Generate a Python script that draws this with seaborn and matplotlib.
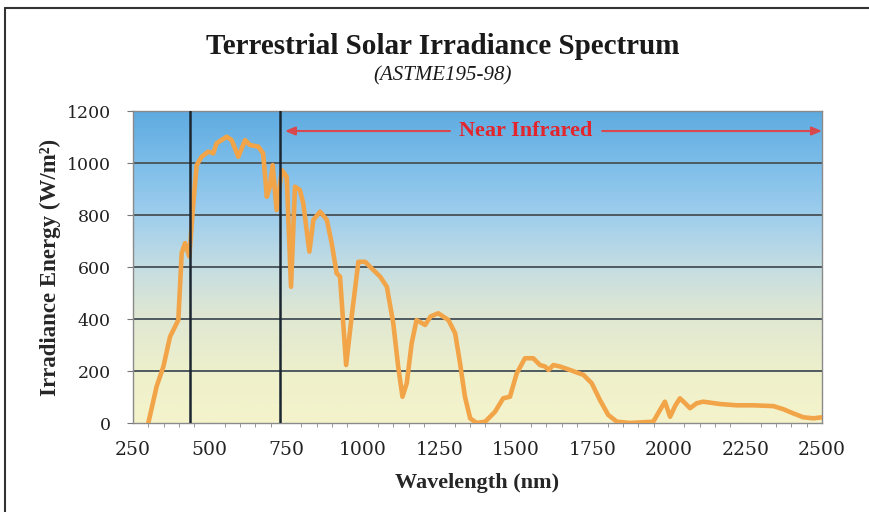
import numpy as np
import seaborn as sns
import matplotlib.pyplot as plt
from matplotlib.colors import LinearSegmentedColormap
from matplotlib.lines import Line2D

# Spectrum values (wavelength in nm, irradiance in W/m^2)
wavelength = [300, 327, 349, 371, 398, 409, 420, 434, 447, 458,
              474, 496, 512, 523, 556, 572, 594, 616, 632, 659,
              675, 687, 697, 706, 719, 736, 752, 766, 779, 795,
              806, 826, 839, 861, 883, 899, 915, 926, 946, 964,
              986, 1008, 1024, 1057, 1079, 1100, 1116, 1130, 1144, 1160,
              1176, 1204, 1222, 1247, 1280, 1302, 1318, 1334, 1351, 1372,
              1400, 1432, 1459, 1481, 1503, 1530, 1557, 1579, 1596, 1607,
              1623, 1645, 1677, 1721, 1748, 1775, 1802, 1830, 1873, 1949,
              1971, 1987, 2004, 2020, 2036, 2053, 2069, 2091, 2112, 2167,
              2222, 2276, 2341, 2374, 2406, 2439, 2472, 2500]
irradiance = [0, 140, 216, 332, 396, 654, 692, 640, 846, 992,
              1024, 1044, 1037, 1076, 1101, 1088, 1024, 1088, 1069, 1063,
              1037, 870, 909, 992, 819, 973, 947, 524, 909, 896,
              845, 659, 781, 813, 781, 691, 576, 563, 223, 409,
              620, 620, 601, 563, 524, 383, 217, 101, 153, 307,
              396, 377, 410, 422, 396, 345, 230, 101, 18, 0,
              5, 43, 95, 101, 191, 249, 249, 223, 217, 204,
              223, 217, 204, 185, 153, 88, 31, 5, 0, 5,
              50, 82, 24, 65, 95, 76, 57, 76, 82, 73,
              68, 68, 65, 53, 37, 22, 18, 22]

# Visible band edges and near infrared span
band_edges = [435, 730]
nir_start, nir_end = 746, 2500
x_ticks = [250, 500, 750, 1000, 1250, 1500, 1750, 2000, 2250, 2500]
y_ticks = [0, 200, 400, 600, 800, 1000, 1200]

sns.set_style("ticks")
plt.rcParams['font.family'] = ['Liberation Serif', 'DejaVu Serif']

fig = plt.figure(figsize=(8.7, 5.12), dpi=100)
ax = fig.add_axes([133 / 870, 1 - 423 / 512, (822 - 133) / 870, (423 - 111) / 512])

# Sky-to-sand gradient behind the plot
bg = LinearSegmentedColormap.from_list('bg', [
    (0.0, '#f4f3cb'), (0.15, '#eff1cb'), (0.35, '#dfe7d3'),
    (0.5, '#c4dde2'), (0.65, '#a2cfec'), (0.82, '#7fbfea'), (1.0, '#5eabe1')])
grad = np.linspace(0, 1, 256).reshape(-1, 1)
ax.imshow(grad, extent=[250, 2500, 0, 1200], origin='lower', aspect='auto',
          cmap=bg, zorder=0)

# Horizontal grid
for yv in y_ticks[1:-1]:
    ax.axhline(yv, color='#4d5a60', lw=1.4, zorder=1)

# Spectrum curve
sns.lineplot(x=wavelength, y=irradiance, ax=ax, estimator=None, color='#f2a449',
             linewidth=3.3, zorder=3, solid_joinstyle='round', solid_capstyle='round')

# Visible band markers
for xv in band_edges:
    ax.axvline(xv, color='#1b2631', lw=1.8, zorder=4)

# Near infrared arrow
red = '#e3262e'
ax.text(1532, 1123, 'Near Infrared', color=red, fontsize=16, fontweight='bold',
        ha='center', va='center', zorder=5)
arrow_red = '#d9484c'
ax.annotate('', xy=(nir_start, 1123), xytext=(1285, 1123),
            arrowprops=dict(arrowstyle='-|>,head_width=0.25,head_length=0.6',
                            color=arrow_red, lw=1.5, shrinkA=0, shrinkB=0), zorder=5)
ax.annotate('', xy=(nir_end, 1123), xytext=(1782, 1123),
            arrowprops=dict(arrowstyle='-|>,head_width=0.25,head_length=0.6',
                            color=arrow_red, lw=1.5, shrinkA=0, shrinkB=0), zorder=5)

ax.set_xlim(250, 2500)
ax.set_ylim(0, 1200)
ax.set_xticks(x_ticks)
ax.set_yticks(y_ticks)
ax.set_xticks(np.arange(250, 2501, 50), minor=True)
ax.tick_params(axis='x', which='major', length=0, pad=13, labelsize=13.5,
               labelfontfamily='DejaVu Serif', labelcolor='#222222')
ax.tick_params(axis='x', which='minor', length=3, color='#888888')
ax.tick_params(axis='y', length=4, color='#777777', pad=12, labelsize=12.5,
               labelfontfamily='DejaVu Serif', labelcolor='#222222')
for side in ['top', 'right', 'left', 'bottom']:
    ax.spines[side].set_color('#8a8a8a')
    ax.spines[side].set_linewidth(1.0)

ax.set_xlabel('Wavelength (nm)', fontsize=16, fontweight='bold', labelpad=10)
ax.set_ylabel('Irradiance Energy (W/m\u00b2)', fontsize=16.5,
              fontweight='bold', labelpad=4)

fig.text(443 / 870, 1 - 47 / 512, 'Terrestrial Solar Irradiance Spectrum',
         ha='center', va='center', fontsize=21, fontweight='bold', color='#1a1a1a')
fig.text(443 / 870, 1 - 76 / 512, '(ASTME195-98)', ha='center', va='center',
         fontsize=15, fontstyle='italic', color='#1a1a1a')

# Frame lines on the left and top edges
fig.add_artist(Line2D([5 / 870, 5 / 870], [0, 1 - 8 / 512], color='#333333', lw=1.5))
fig.add_artist(Line2D([5 / 870, 1], [1 - 8 / 512, 1 - 8 / 512], color='#333333', lw=1.5))

fig.savefig('out.png', dpi=100)
